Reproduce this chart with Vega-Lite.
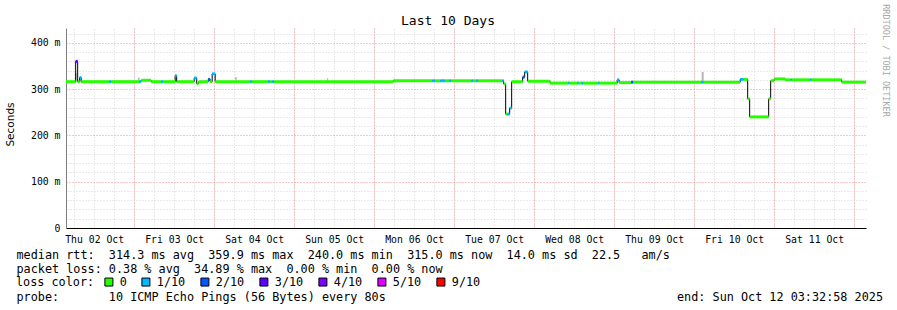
{
  "$schema": "https://vega.github.io/schema/vega-lite/v6.json",
  "width": 800,
  "height": 200,
  "autosize": {"type": "none"},
  "padding": {"left": 66, "top": 28, "right": 31, "bottom": 82},
  "background": "white",
  "title": {"text": "Last 10 Days", "font": "DejaVu Sans Mono", "fontSize": 13, "fontWeight": "normal", "color": "#000000", "anchor": "middle", "dx": -18, "dy": 38, "offset": 4, "baseline": "alphabetic"},
  "datasets": {
    "seg": [
      {"t0": "2025-10-02T03:32:58", "t1": "2025-10-02T06:27", "v": 316, "loss": "0"},
      {"t0": "2025-10-02T06:27", "t1": "2025-10-02T07:03", "v": 360, "loss": "3/10"},
      {"t0": "2025-10-02T07:03", "t1": "2025-10-02T07:39", "v": 316, "loss": "0"},
      {"t0": "2025-10-02T07:39", "t1": "2025-10-02T08:06", "v": 325, "loss": "1/10"},
      {"t0": "2025-10-02T08:06", "t1": "2025-10-02T16:30", "v": 316, "loss": "0"},
      {"t0": "2025-10-02T16:30", "t1": "2025-10-02T17:06", "v": 316, "loss": "1/10"},
      {"t0": "2025-10-02T17:06", "t1": "2025-10-03T01:30", "v": 316, "loss": "0"},
      {"t0": "2025-10-03T01:30", "t1": "2025-10-03T02:06", "v": 316, "loss": "1/10"},
      {"t0": "2025-10-03T02:06", "t1": "2025-10-03T05:06", "v": 319, "loss": "0"},
      {"t0": "2025-10-03T05:06", "t1": "2025-10-03T08:06", "v": 316, "loss": "0"},
      {"t0": "2025-10-03T08:06", "t1": "2025-10-03T08:42", "v": 316, "loss": "1/10"},
      {"t0": "2025-10-03T08:42", "t1": "2025-10-03T12:18", "v": 316, "loss": "0"},
      {"t0": "2025-10-03T12:18", "t1": "2025-10-03T12:45", "v": 329, "loss": "1/10"},
      {"t0": "2025-10-03T12:45", "t1": "2025-10-03T18:00", "v": 316, "loss": "0"},
      {"t0": "2025-10-03T18:00", "t1": "2025-10-03T18:45", "v": 324, "loss": "1/10"},
      {"t0": "2025-10-03T18:45", "t1": "2025-10-03T19:21", "v": 312, "loss": "0"},
      {"t0": "2025-10-03T19:21", "t1": "2025-10-03T22:12", "v": 316, "loss": "0"},
      {"t0": "2025-10-03T22:12", "t1": "2025-10-03T22:48", "v": 321, "loss": "2/10"},
      {"t0": "2025-10-03T22:48", "t1": "2025-10-03T23:24", "v": 316, "loss": "0"},
      {"t0": "2025-10-03T23:24", "t1": "2025-10-04T00:18", "v": 333, "loss": "1/10"},
      {"t0": "2025-10-04T00:18", "t1": "2025-10-04T10:48", "v": 316, "loss": "0"},
      {"t0": "2025-10-04T10:48", "t1": "2025-10-04T11:24", "v": 316, "loss": "1/10"},
      {"t0": "2025-10-04T11:24", "t1": "2025-10-04T16:12", "v": 316, "loss": "0"},
      {"t0": "2025-10-04T16:12", "t1": "2025-10-04T16:48", "v": 316, "loss": "1/10"},
      {"t0": "2025-10-04T16:48", "t1": "2025-10-04T17:24", "v": 316, "loss": "0"},
      {"t0": "2025-10-04T17:24", "t1": "2025-10-04T18:00", "v": 316, "loss": "1/10"},
      {"t0": "2025-10-04T18:00", "t1": "2025-10-06T05:42", "v": 316, "loss": "0"},
      {"t0": "2025-10-06T05:42", "t1": "2025-10-06T17:24", "v": 318, "loss": "0"},
      {"t0": "2025-10-06T17:24", "t1": "2025-10-06T18:18", "v": 318, "loss": "1/10"},
      {"t0": "2025-10-06T18:18", "t1": "2025-10-06T19:48", "v": 318, "loss": "0"},
      {"t0": "2025-10-06T19:48", "t1": "2025-10-06T21:18", "v": 318, "loss": "1/10"},
      {"t0": "2025-10-06T21:18", "t1": "2025-10-06T22:30", "v": 318, "loss": "0"},
      {"t0": "2025-10-06T22:30", "t1": "2025-10-06T23:06", "v": 318, "loss": "1/10"},
      {"t0": "2025-10-06T23:06", "t1": "2025-10-07T05:06", "v": 318, "loss": "0"},
      {"t0": "2025-10-07T05:06", "t1": "2025-10-07T05:42", "v": 318, "loss": "1/10"},
      {"t0": "2025-10-07T05:42", "t1": "2025-10-07T06:36", "v": 318, "loss": "0"},
      {"t0": "2025-10-07T06:36", "t1": "2025-10-07T07:12", "v": 318, "loss": "1/10"},
      {"t0": "2025-10-07T07:12", "t1": "2025-10-07T14:24", "v": 318, "loss": "0"},
      {"t0": "2025-10-07T14:24", "t1": "2025-10-07T14:51", "v": 318, "loss": "1/10"},
      {"t0": "2025-10-07T14:51", "t1": "2025-10-07T15:27", "v": 311, "loss": "0"},
      {"t0": "2025-10-07T15:27", "t1": "2025-10-07T15:54", "v": 246, "loss": "0"},
      {"t0": "2025-10-07T15:54", "t1": "2025-10-07T16:39", "v": 246, "loss": "1/10"},
      {"t0": "2025-10-07T16:39", "t1": "2025-10-07T17:15", "v": 259, "loss": "1/10"},
      {"t0": "2025-10-07T17:15", "t1": "2025-10-07T20:33", "v": 316, "loss": "0"},
      {"t0": "2025-10-07T20:33", "t1": "2025-10-07T21:09", "v": 326, "loss": "2/10"},
      {"t0": "2025-10-07T21:09", "t1": "2025-10-07T22:03", "v": 337, "loss": "1/10"},
      {"t0": "2025-10-07T22:03", "t1": "2025-10-08T04:48", "v": 317, "loss": "0"},
      {"t0": "2025-10-08T04:48", "t1": "2025-10-08T10:12", "v": 313, "loss": "0"},
      {"t0": "2025-10-08T10:12", "t1": "2025-10-08T10:39", "v": 313, "loss": "1/10"},
      {"t0": "2025-10-08T10:39", "t1": "2025-10-08T12:54", "v": 313, "loss": "0"},
      {"t0": "2025-10-08T12:54", "t1": "2025-10-08T13:21", "v": 313, "loss": "1/10"},
      {"t0": "2025-10-08T13:21", "t1": "2025-10-08T14:15", "v": 313, "loss": "0"},
      {"t0": "2025-10-08T14:15", "t1": "2025-10-08T14:42", "v": 313, "loss": "1/10"},
      {"t0": "2025-10-08T14:42", "t1": "2025-10-08T19:12", "v": 313, "loss": "0"},
      {"t0": "2025-10-08T19:12", "t1": "2025-10-08T19:39", "v": 313, "loss": "1/10"},
      {"t0": "2025-10-08T19:39", "t1": "2025-10-09T00:54", "v": 313, "loss": "0"},
      {"t0": "2025-10-09T00:54", "t1": "2025-10-09T01:30", "v": 320, "loss": "1/10"},
      {"t0": "2025-10-09T01:30", "t1": "2025-10-09T05:06", "v": 314, "loss": "0"},
      {"t0": "2025-10-09T05:06", "t1": "2025-10-09T05:42", "v": 315, "loss": "2/10"},
      {"t0": "2025-10-09T05:42", "t1": "2025-10-10T02:06", "v": 315, "loss": "0"},
      {"t0": "2025-10-10T02:06", "t1": "2025-10-10T02:51", "v": 315, "loss": "1/10"},
      {"t0": "2025-10-10T02:51", "t1": "2025-10-10T13:48", "v": 315, "loss": "0"},
      {"t0": "2025-10-10T13:48", "t1": "2025-10-10T14:51", "v": 321, "loss": "1/10"},
      {"t0": "2025-10-10T14:51", "t1": "2025-10-10T16:03", "v": 321, "loss": "0"},
      {"t0": "2025-10-10T16:03", "t1": "2025-10-10T16:39", "v": 279, "loss": "0"},
      {"t0": "2025-10-10T16:39", "t1": "2025-10-10T22:21", "v": 240, "loss": "0"},
      {"t0": "2025-10-10T22:21", "t1": "2025-10-10T22:57", "v": 279, "loss": "0"},
      {"t0": "2025-10-10T22:57", "t1": "2025-10-11T00:00", "v": 318, "loss": "0"},
      {"t0": "2025-10-11T00:00", "t1": "2025-10-11T03:18", "v": 322, "loss": "0"},
      {"t0": "2025-10-11T03:18", "t1": "2025-10-11T04:57", "v": 320, "loss": "0"},
      {"t0": "2025-10-11T04:57", "t1": "2025-10-11T05:15", "v": 320, "loss": "1/10"},
      {"t0": "2025-10-11T05:15", "t1": "2025-10-11T10:48", "v": 320, "loss": "0"},
      {"t0": "2025-10-11T10:48", "t1": "2025-10-11T11:15", "v": 320, "loss": "1/10"},
      {"t0": "2025-10-11T11:15", "t1": "2025-10-11T20:15", "v": 320, "loss": "0"},
      {"t0": "2025-10-11T20:15", "t1": "2025-10-12T03:32:58", "v": 315, "loss": "0"}
    ],
    "smoke": [
      {"t0": "2025-10-02T06:18", "t1": "2025-10-02T06:45", "lo": 316, "hi": 335},
      {"t0": "2025-10-03T01:12", "t1": "2025-10-03T01:39", "lo": 319, "hi": 325},
      {"t0": "2025-10-04T06:18", "t1": "2025-10-04T06:45", "lo": 318, "hi": 326},
      {"t0": "2025-10-05T09:54", "t1": "2025-10-05T10:12", "lo": 316, "hi": 324},
      {"t0": "2025-10-10T02:15", "t1": "2025-10-10T02:51", "lo": 318, "hi": 337}
    ]
  },
  "config": {
    "view": {"stroke": null},
    "axis": {"labelFont": "DejaVu Sans Mono", "labelColor": "#000000", "labelFontSize": 9.8}
  },
  "resolve": {"axis": {"x": "independent", "y": "independent"}},
  "layer": [
    {
      "data": {"name": "smoke"},
      "mark": {"type": "rect", "color": "#b4b4b4"},
      "encoding": {
        "x": {
          "field": "t0", "type": "temporal",
          "scale": {"domain": [{"year": 2025, "month": 10, "date": 2, "hours": 3, "minutes": 32, "seconds": 58}, {"year": 2025, "month": 10, "date": 12, "hours": 3, "minutes": 32, "seconds": 58}], "nice": false},
          "axis": {"orient": "top", "labels": false, "ticks": false, "domain": false, "grid": true, "gridColor": "#d4d4d4", "gridDash": [1, 2], "tickCount": 40,
            "title": "probe:\u00a0\u00a0\u00a0\u00a0\u00a0\u00a0\u00a010 ICMP Echo Pings (56 Bytes) every 80s\u00a0\u00a0\u00a0\u00a0\u00a0\u00a0\u00a0\u00a0\u00a0\u00a0\u00a0\u00a0\u00a0\u00a0\u00a0\u00a0\u00a0\u00a0\u00a0\u00a0\u00a0\u00a0\u00a0\u00a0\u00a0\u00a0\u00a0\u00a0\u00a0\u00a0\u00a0\u00a0\u00a0\u00a0\u00a0\u00a0\u00a0\u00a0\u00a0\u00a0\u00a0end: Sun Oct 12 03:32:58 2025",
            "titleAnchor": "start", "titleAlign": "left", "titleBaseline": "alphabetic", "titleX": -50, "titleY": 272,
            "titleFont": "DejaVu Sans Mono", "titleFontSize": 11.8, "titleFontWeight": "normal", "titleColor": "#000000"}
        },
        "x2": {"field": "t1"},
        "y": {
          "field": "lo", "type": "quantitative",
          "scale": {"domain": [0, 432], "nice": false, "zero": true},
          "axis": {"orient": "right", "labels": false, "ticks": false, "domain": false, "grid": true, "gridColor": "#d4d4d4", "gridDash": [1, 2],
            "values": [20, 40, 60, 80, 120, 140, 160, 180, 220, 240, 260, 280, 320, 340, 360, 380, 420],
            "title": "RRDTOOL / TOBI OETIKER", "titleAngle": 90, "titleX": 19, "titleY": 32, "titleAlign": "center", "titleBaseline": "middle",
            "titleFont": "DejaVu Sans Mono", "titleFontSize": 8.5, "titleFontWeight": "normal", "titleColor": "#a8a8a8"}
        },
        "y2": {"field": "hi"}
      }
    },
    {
      "data": {"name": "seg"},
      "mark": {"type": "line", "interpolate": "step-after", "color": "#000000", "strokeWidth": 1},
      "encoding": {
        "x": {"field": "t0", "type": "temporal", "axis": null},
        "y": {"field": "v", "type": "quantitative", "axis": null}
      }
    },
    {
      "data": {"name": "seg"},
      "mark": {"type": "rect", "yOffset": -1.5, "y2Offset": 1.5},
      "encoding": {
        "x": {
          "field": "t0", "type": "temporal",
          "axis": {
            "orient": "bottom",
            "values": [{"year": 2025, "month": 10, "date": 3}, {"year": 2025, "month": 10, "date": 4}, {"year": 2025, "month": 10, "date": 5}, {"year": 2025, "month": 10, "date": 6}, {"year": 2025, "month": 10, "date": 7}, {"year": 2025, "month": 10, "date": 8}, {"year": 2025, "month": 10, "date": 9}, {"year": 2025, "month": 10, "date": 10}, {"year": 2025, "month": 10, "date": 11}, {"year": 2025, "month": 10, "date": 12}],
            "labelExpr": "timeFormat(datum.value - 86400000, '%a %d %b')",
            "labelOffset": -40, "labelPadding": 6, "labelOverlap": false, "labelFlush": false, "labelBound": false,
            "ticks": false, "tickSize": 0,
            "domain": true, "domainColor": "#000000", "domainWidth": 1,
            "grid": true, "gridColor": "#f09090", "gridDash": [1, 2],
            "title": [
              "median rtt:\u00a0\u00a0314.3 ms avg\u00a0\u00a0359.9 ms max\u00a0\u00a0240.0 ms min\u00a0\u00a0315.0 ms now\u00a0\u00a014.0 ms sd\u00a0\u00a022.5\u00a0\u00a0\u00a0am/s",
              "packet loss: 0.38 % avg\u00a0\u00a034.89 % max\u00a0\u00a00.00 % min\u00a0\u00a00.00 % now"
            ],
            "titleAnchor": "start", "titleAlign": "left", "titleBaseline": "alphabetic", "titleX": -50, "titleY": 30, "titleLineHeight": 14,
            "titleFont": "DejaVu Sans Mono", "titleFontSize": 11.8, "titleFontWeight": "normal", "titleColor": "#000000"
          }
        },
        "x2": {"field": "t1"},
        "y": {
          "field": "v", "type": "quantitative",
          "axis": {
            "orient": "left", "values": [0, 100, 200, 300, 400],
            "labelExpr": "datum.value == 0 ? '0\u00a0\u00a0' : datum.value + ' m'",
            "labelPadding": 6, "ticks": false, "tickSize": 0,
            "domain": true, "domainColor": "#808080", "domainWidth": 1,
            "grid": true, "gridColor": "#f09090", "gridDash": [1, 2],
            "title": "Seconds", "titleX": -56, "titleY": 96, "titleAngle": -90, "titleAlign": "center", "titleBaseline": "middle",
            "titleFont": "DejaVu Sans", "titleFontSize": 10.5, "titleFontWeight": "normal", "titleColor": "#000000"
          }
        },
        "y2": {"field": "v"},
        "color": {
          "field": "loss", "type": "nominal",
          "scale": {"domain": ["0", "1/10", "2/10", "3/10", "4/10", "5/10", "9/10"], "range": ["#26ff00", "#00b8ff", "#0059ff", "#5e00ff", "#7e00ff", "#dd00ff", "#ff0000"]},
          "legend": {
            "orient": "none", "legendX": -50, "legendY": 248, "direction": "horizontal",
            "title": "loss color:", "titleOrient": "left", "titlePadding": 8,
            "titleFont": "DejaVu Sans Mono", "titleFontSize": 11.8, "titleFontWeight": "normal", "titleColor": "#000000",
            "labelFont": "DejaVu Sans Mono", "labelFontSize": 11.8, "labelColor": "#000000", "labelOffset": 5,
            "symbolType": "square", "symbolSize": 64, "symbolStrokeColor": "#000000", "symbolStrokeWidth": 1, "symbolOpacity": 1,
            "columnPadding": 12
          }
        }
      }
    }
  ]
}
